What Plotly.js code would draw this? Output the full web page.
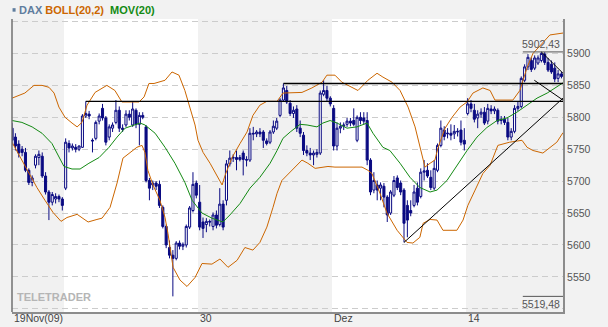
<!DOCTYPE html>
<html><head><meta charset="utf-8">
<script src="https://cdn.plot.ly/plotly-3.0.1.min.js"></script>
<style>html,body{margin:0;padding:0;background:#f2f2f2;}#chart{width:608px;height:327px;}</style>
</head><body><div id="chart"></div>
<script>
// hourly bars, 8 per trading day, from Thu 19 Nov 2009 to Thu 17 Dec 2009
const barsPerDay = 8;
const openP = [
 5783,5769,5758,5750,5745,5717,5698,5725,
 5737,5739,5708,5683,5667,5672,5676,5672,
 5689,5759,5752,5753,5750,5753,5802,5805,
 5764,5767,5794,5814,5799,5769,5783,5792,
 5811,5783,5788,5805,5788,5811,5789,5803,
 5785,5701,5694,5697,5695,5659,5629,5596,
 5584,5579,5603,5598,5600,5628,5654,5697,
 5667,5636,5632,5637,5629,5647,5632,5664,
 5670,5727,5736,5737,5734,5744,5734,5733,
 5775,5774,5777,5777,5763,5761,5777,5783,
 5803,5827,5842,5822,5806,5813,5783,5772,
 5748,5744,5741,5742,5744,5836,5842,5830,
 5814,5755,5783,5786,5789,5794,5795,5764,
 5800,5799,5795,5733,5686,5694,5689,5692,
 5675,5650,5678,5705,5697,5686,5662,5654,
 5662,5689,5676,5714,5717,5706,5689,5717,
 5756,5780,5774,5775,5774,5777,5780,5764,
 5806,5821,5811,5799,5805,5808,5794,5813,
 5810,5811,5795,5797,5792,5769,5778,5814,
 5817,5858,5879,5889,5877,5885,5889,5899,
 5886,5883,5877,5861,5868];
const highP = [
 5791,5775,5764,5755,5752,5720,5709,5742,
 5748,5745,5714,5686,5683,5681,5679,5675,
 5767,5764,5759,5758,5756,5805,5825,5810,
 5767,5795,5806,5821,5802,5789,5792,5827,
 5817,5789,5811,5811,5825,5814,5808,5808,
 5788,5705,5701,5700,5701,5662,5632,5607,
 5592,5606,5607,5604,5632,5661,5714,5701,
 5694,5643,5642,5640,5651,5654,5689,5670,
 5733,5748,5742,5748,5741,5748,5739,5783,
 5785,5780,5783,5780,5767,5780,5795,5799,
 5830,5853,5849,5827,5817,5819,5795,5777,
 5756,5752,5748,5750,5842,5858,5849,5833,
 5819,5792,5792,5792,5799,5799,5814,5803,
 5808,5808,5808,5736,5714,5701,5698,5697,
 5678,5686,5708,5709,5701,5689,5670,5670,
 5694,5698,5720,5733,5728,5717,5733,5759,
 5795,5786,5783,5789,5788,5783,5795,5783,
 5830,5827,5821,5811,5814,5816,5821,5819,
 5817,5814,5802,5802,5799,5783,5819,5824,
 5864,5883,5899,5894,5897,5897,5902.43,5902,
 5893,5889,5886,5874,5871];
const lowP = [
 5756,5748,5737,5739,5714,5694,5692,5720,
 5725,5705,5679,5639,5662,5665,5667,5654,
 5686,5745,5748,5745,5747,5752,5799,5797,
 5745,5764,5789,5795,5756,5764,5777,5789,
 5777,5777,5785,5795,5785,5783,5756,5797,
 5698,5670,5686,5686,5658,5626,5595,5579,
 5519.48,5576,5593,5592,5596,5625,5651,5673,
 5623,5611,5620,5629,5623,5626,5629,5623,
 5662,5723,5730,5717,5731,5709,5723,5730,
 5764,5769,5769,5752,5756,5758,5774,5780,
 5800,5824,5821,5802,5799,5777,5769,5741,
 5739,5733,5725,5737,5741,5833,5825,5817,
 5748,5748,5775,5780,5785,5786,5786,5761,
 5789,5789,5725,5678,5681,5670,5670,5659,
 5636,5647,5675,5686,5678,5604,5612,5645,
 5659,5662,5673,5701,5705,5686,5686,5714,
 5753,5764,5767,5764,5766,5770,5756,5748,
 5803,5808,5792,5783,5799,5788,5789,5805,
 5805,5789,5789,5788,5764,5764,5775,5810,
 5814,5855,5874,5871,5874,5882,5886,5882,
 5871,5868,5855,5855,5861];
const closeP = [
 5764,5755,5744,5745,5717,5698,5705,5739,
 5742,5708,5683,5667,5679,5676,5672,5662,
 5761,5752,5755,5750,5755,5802,5806,5802,
 5763,5792,5802,5799,5761,5785,5788,5811,
 5783,5781,5805,5800,5813,5789,5803,5800,
 5701,5689,5697,5692,5662,5629,5600,5584,
 5579,5603,5598,5601,5629,5658,5695,5678,
 5628,5626,5637,5636,5647,5631,5664,5628,
 5727,5736,5737,5734,5737,5734,5733,5775,
 5774,5777,5774,5764,5759,5777,5786,5794,
 5827,5846,5824,5806,5811,5783,5775,5748,
 5744,5741,5744,5745,5838,5842,5830,5821,
 5755,5783,5786,5788,5794,5791,5789,5800,
 5795,5794,5733,5683,5701,5686,5694,5675,
 5647,5683,5701,5690,5683,5634,5639,5650,
 5683,5667,5714,5716,5708,5690,5720,5756,
 5783,5770,5775,5772,5778,5778,5761,5758,
 5821,5814,5797,5805,5808,5791,5814,5810,
 5813,5794,5797,5792,5769,5778,5814,5817,
 5861,5879,5894,5875,5893,5893,5900,5886,
 5874,5871,5860,5868,5864];

// Bollinger (20,2) bands and MOV(20), time in trading days
const upperT = [0.06,0.54,0.88,1.18,1.44,1.63,1.81,2.04,2.30,2.49,2.67,2.86,3.16,3.60,3.90,4.05,4.16,4.54,4.80,4.99,5.17,5.36,5.77,6.03,6.29,6.51,6.78,6.89,7.00,7.19,7.45,7.75,7.90,8.01,8.27,8.57,8.83,9.05,9.31,9.57,9.95,10.17,10.51,10.88,11.25,11.63,11.81,12.11,12.37,12.60,12.97,13.34,13.68,13.90,14.24,14.54,14.84,15.10,15.28,15.47,15.66,15.84,15.96,16.22,16.48,16.78,17.04,17.26,17.63,17.90,18.08,18.27,18.75,19.01,19.28,19.50,19.87,20.13,20.62];
const upperBand = [5830,5838,5850,5850,5847,5838,5816,5800,5791,5785,5792,5819,5839,5850,5842,5831,5824,5824,5824,5832,5853,5853,5858,5871,5866,5842,5806,5788,5764,5745,5728,5705,5694,5709,5737,5759,5777,5803,5819,5825,5825,5838,5839,5839,5846,5855,5866,5866,5855,5850,5842,5858,5869,5863,5855,5842,5816,5785,5753,5722,5728,5733,5753,5783,5800,5816,5824,5838,5846,5842,5827,5827,5827,5842,5878,5900,5918,5929,5932];
const lowerT = [0.06,0.36,0.73,0.99,1.29,1.59,1.89,2.11,2.49,2.67,2.90,3.23,3.42,3.72,3.98,4.20,4.46,4.72,4.91,5.02,5.13,5.32,5.58,5.77,5.88,6.07,6.33,6.59,6.89,7.15,7.52,7.82,8.12,8.46,8.75,9.05,9.31,9.57,9.80,9.95,10.13,10.51,10.88,11.10,11.37,11.85,12.11,13.12,13.34,13.49,13.79,14.05,14.43,14.80,15.02,15.28,15.40,15.66,15.92,16.14,16.66,16.89,17.07,17.34,17.63,17.90,18.08,18.19,18.63,19.09,19.28,19.50,19.87,20.13,20.39,20.62];
const lowerBand = [5761,5738,5712,5690,5670,5651,5637,5643,5648,5643,5636,5640,5642,5659,5697,5736,5744,5753,5756,5745,5717,5694,5670,5643,5618,5565,5545,5535,5549,5571,5570,5578,5565,5576,5596,5592,5604,5628,5659,5681,5701,5717,5733,5728,5720,5723,5722,5722,5717,5712,5681,5650,5623,5604,5603,5612,5634,5640,5639,5623,5623,5639,5662,5686,5712,5725,5745,5756,5761,5764,5753,5748,5744,5752,5761,5776];
const movT = [0.06,0.43,0.81,1.18,1.55,1.81,2.00,2.30,2.60,2.93,3.31,3.68,3.98,4.28,4.61,4.84,5.02,5.40,5.77,6.14,6.51,6.78,7.15,7.52,7.93,8.19,8.57,8.94,9.31,9.69,9.95,10.17,10.44,10.81,11.07,11.44,11.66,11.93,12.19,12.56,12.93,13.16,13.31,13.53,13.90,14.16,14.54,14.91,15.28,15.66,15.92,16.29,16.66,17.04,17.41,17.78,18.16,18.53,18.90,19.28,19.65,20.03,20.39,20.62];
const movAvg = [5795,5792,5785,5775,5759,5737,5723,5719,5719,5728,5737,5753,5769,5783,5788,5791,5788,5775,5753,5728,5698,5670,5650,5642,5636,5647,5665,5689,5706,5728,5748,5767,5777,5789,5788,5785,5791,5795,5791,5783,5785,5788,5791,5775,5753,5748,5728,5706,5690,5683,5686,5701,5725,5748,5769,5784,5795,5799,5808,5819,5830,5838,5848,5854];

// week stripes (trading-day boundaries) and axis labels
const weekBounds = [0, 2, 7, 12, 17, 21];
const tickDays = [0.06, 7, 12, 17];
const tickText = ['19Nov(09)', '30', 'Dez', '14'];
const yTicks = [5500,5550,5600,5650,5700,5750,5800,5850,5900,5950];

// drawn studies: resistance lines start at the bar whose high they mark
const resistanceBars = [22, 81];
const trendLines = [
  [[14.6875, 5604], [20.62, 5830]],
  [[19.8125, 5902.43], [20.62, 5869]],
  [[19.55, 5858], [20.62, 5827]]
];

const xEnd = 20.62;
const xPos = openP.map((_, i) => Math.floor(i / barsPerDay) + ((i % barsPerDay) + 0.5) / barsPerDay);
const navy = '#0a0a82';
const txtFont = 'Liberation Sans, Arial, sans-serif';

const traces = [
  {type:'scatter', mode:'lines', x: upperT, y: upperBand, line:{color:'#cc6600', width:1}, hoverinfo:'skip'},
  {type:'scatter', mode:'lines', x: lowerT, y: lowerBand, line:{color:'#cc6600', width:1}, hoverinfo:'skip'},
  {type:'scatter', mode:'lines', x: movT, y: movAvg, line:{color:'#138a13', width:1}, hoverinfo:'skip'},
  {type:'candlestick', x: xPos, open: openP, high: highP, low: lowP, close: closeP,
   whiskerwidth: 0,
   increasing:{line:{color:navy, width:1}, fillcolor:'#ffffff'},
   decreasing:{line:{color:navy, width:1}, fillcolor:navy}}
];

const shapes = [];
for (let k = 0; k < weekBounds.length - 1; k++) {
  if (k % 2 === 0) shapes.push({type:'rect', xref:'x', yref:'paper', x0: weekBounds[k], x1: weekBounds[k+1], y0:0, y1:1,
    fillcolor:'#f1f1f1', line:{width:0}, layer:'below'});
}
resistanceBars.forEach(i => shapes.push({type:'line', xref:'x', yref:'y', x0: xPos[i], x1: xEnd, y0: highP[i], y1: highP[i],
  line:{color:'#000', width:1.4}}));
trendLines.forEach(t => shapes.push({type:'line', xref:'x', yref:'y', x0:t[0][0], y0:t[0][1], x1:t[1][0], y1:t[1][1],
  line:{color:'#000', width:1}}));
const maxV = Math.max(...highP), minV = Math.min(...lowP);
const fmt = v => v.toFixed(2).replace('.', ',');
[maxV, minV].forEach(v => shapes.push({type:'line', xref:'x', yref:'y', x0:19.12, x1:xEnd, y0:v, y1:v, line:{color:'#555', width:1}}));
// left frame line and legend bullet
shapes.push({type:'line', xref:'paper', yref:'paper', x0:0, x1:0, y0:0, y1:1, line:{color:'#707070', width:1.5}});
shapes.push({type:'rect', xref:'paper', yref:'paper', x0:0.001, x1:0.0065, y0:1.025, y1:1.037, fillcolor:'#5f7d9e', line:{width:0}});

const annotations = [
  {xref:'paper', yref:'paper', x:0, y:1, xanchor:'left', yanchor:'middle', xshift:5, yshift:9, showarrow:false,
   text:'<b><span style="color:#5f7d9e">DAX</span> <span style="color:#cc6600">BOLL(20,2)</span>\u00a0 <span style="color:#138a13">MOV(20)</span></b>',
   font:{family:txtFont, size:11}},
  {xref:'paper', yref:'paper', x:0, y:0.05, xanchor:'left', yanchor:'middle', xshift:3, showarrow:false,
   text:'<b>TELETRADER</b>', font:{family:'Liberation Sans Narrow, Arial Narrow, Liberation Sans, sans-serif', size:11, color:'#b5b5b5'}},
  {xref:'x', yref:'y', x:xEnd, y:maxV, xanchor:'right', yanchor:'bottom', xshift:-1, showarrow:false, text:fmt(maxV),
   font:{family:txtFont, size:10.5, color:'#555'}},
  {xref:'x', yref:'y', x:xEnd, y:minV, xanchor:'right', yanchor:'top', xshift:-1, showarrow:false, text:fmt(minV),
   font:{family:txtFont, size:10.5, color:'#555'}}
];
// x labels, left-aligned at their tick
tickDays.forEach((d, i) => annotations.push({xref:'x', yref:'paper', x:d, y:0, xanchor:'left', yanchor:'middle',
  xshift:0, yshift:-6, showarrow:false, text:tickText[i], font:{family:txtFont, size:10.5, color:'#444'}}));

const layout = {
  width:608, height:327, margin:{l:12, r:45, t:19, b:15},
  paper_bgcolor:'#f2f2f2', plot_bgcolor:'#ffffff', showlegend:false, hovermode:false,
  boxgap:0.12,
  font:{family:txtFont, size:10.5, color:'#444'},
  xaxis:{type:'linear', range:[0.06, xEnd], rangeslider:{visible:false}, showgrid:false, zeroline:false,
    tickvals:tickDays, showticklabels:false, ticks:'',
    showline:true, linecolor:'#8c8c8c', linewidth:2},
  yaxis:{side:'right', range:[5495, 5954], tickvals:yTicks,
    ticktext:yTicks.map((v,i) => (i===0 || i===yTicks.length-1) ? '' : String(v)),
    showgrid:true, gridcolor:'#cccccc', griddash:'6px,4px', gridwidth:1, zeroline:false, ticks:'',
    showline:true, linecolor:'#8c8c8c', linewidth:2, tickfont:{size:10.5, color:'#555'}},
  shapes:shapes, annotations:annotations
};
Plotly.newPlot('chart', traces, layout, {staticPlot:true, displayModeBar:false});
</script></body></html>
